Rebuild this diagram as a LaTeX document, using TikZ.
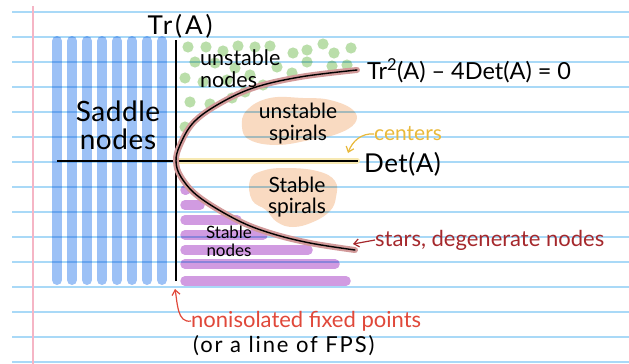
\documentclass[tikz,border=0pt]{standalone}
\usepackage{fontspec}
\setmainfont{Lato}
\usetikzlibrary{arrows.meta}

\definecolor{rulecol}{RGB}{169,217,247}
\definecolor{margincol}{RGB}{245,181,197}
\definecolor{saddlecol}{RGB}{156,193,246}
\definecolor{dotcol}{RGB}{186,222,170}
\definecolor{peachcol}{RGB}{249,218,193}
\definecolor{stablecol}{RGB}{209,155,225}
\definecolor{halocol}{RGB}{210,154,154}
\definecolor{bandcol}{RGB}{247,233,179}
\definecolor{centercol}{RGB}{233,185,58}
\definecolor{starcol}{RGB}{165,40,44}
\definecolor{fpcol}{RGB}{224,72,58}

% size, leading and extra letter spacing of the hand lettering
\newcommand{\handfont}[3]{\fontsize{#1}{#2}\selectfont\addfontfeature{LetterSpace=#3}}

\tikzset{
  ruled/.style={draw=rulecol, line width=1.1},
  saddlebar/.style={draw=saddlecol, line width=10, line cap=round, blend mode=multiply},
  stablebar/.style={draw=stablecol, line width=9.5, line cap=round, blend mode=multiply},
  greendot/.style={fill=dotcol, blend mode=multiply},
  blob/.style={fill=peachcol, blend mode=multiply},
  axis/.style={draw=black, line width=1.3},
  lbl/.style={inner sep=0, text=black},
  handarrow/.style={line width=1.2, -{Straight Barb[length=5pt,width=8pt]}},
}

\begin{document}
\begin{tikzpicture}[x=1pt,y=-1pt]
\useasboundingbox (0,0) rectangle (629,364);
\fill[white] (0,0) rectangle (629,364);

% notebook paper
\foreach \k in {0,...,14}{
  \draw[ruled] (12,12+25*\k) -- (629,12+25*\k);
}
\draw[draw=margincol, line width=1.1] (33,6) -- (33,364);

% saddle region: vertical bars
\foreach \xx in {57,72,87,102,117,132,147,162}{
  \draw[saddlebar] (\xx,41) -- (\xx,280);
}

% unstable nodes: dots
\foreach \p in {(188,47),(206,47),(223,51),(238,46),(255,47),(270,46),(293,53),(307,50),(323,44),(334,53),(351,48),
                (195,62),(215,63),(235,68),(277,67),(307,62),(332,66),(347,65),
                (185,78),(203,82),(227,80),(250,75),(263,85),(292,73),
                (245,92),(232,98),(190,102),(210,104),(185,127)}{
  \fill[greendot] \p circle[radius=5.6];
}

% spiral regions
\fill[blob] plot[smooth cycle, tension=0.7] coordinates {
  (247,110) (270,98) (303,98) (330,100) (353,110) (355,123) (337,134) (310,140) (277,145) (250,140) (242,127)};
\fill[blob] plot[smooth cycle, tension=0.7] coordinates {
  (250,180) (262,171) (285,168) (317,171) (335,181) (336,197) (330,211) (313,222) (293,227) (277,222) (266,210) (252,200)};

% stable nodes: horizontal bars
\draw[stablebar] (185,190) -- (186,190);
\draw[stablebar] (185,205) -- (200,205);
\draw[stablebar] (185,220) -- (237,220);
\draw[stablebar] (185,235) -- (263,235);
\draw[stablebar] (185,250) -- (308,250);
\draw[stablebar] (185,264) -- (335,264);
\draw[stablebar] (185,281) -- (346,281);

% centers: band along the positive Det axis
\draw[draw=bandcol, line width=6, line cap=round] (178,160.5) -- (357,160.5);

% axes
\coordinate (trbot) at (176,281);
\coordinate (trtop) at (176,40);
\coordinate (detl) at (57,161);
\coordinate (detr) at (358,161);
\draw[axis] (trbot) -- (trtop);
\draw[axis] (detl) -- (detr);

% Tr^2 - 4 Det = 0
\draw[draw=halocol, line width=2.3, double=black, double distance=1.4, line cap=round]
  plot[smooth, tension=0.6] coordinates {
  (357,70) (300,77) (253,88) (217,105) (193,123) (180,145) (176,161) (181,177) (199,197) (237,220) (270,233) (310,243) (355,250)};

% labels
\node[lbl, font=\handfont{26}{28}{11}] (tr) at (180,26) {Tr(A)};
\node[lbl, font=\handfont{26}{28}{2}, anchor=west] (det) at (364,164) {Det(A)};
\node[lbl, font=\handfont{28}{28}{2}, align=center] (saddle) at (118,125) {Saddle\\nodes};
\node[lbl, font=\handfont{21.5}{22}{0}, align=left, anchor=west] (unodes) at (200,69) {unstable\\nodes};
\node[lbl, font=\handfont{21}{22}{0}, align=center] (uspir) at (298,124) {unstable\\spirals};
\node[lbl, font=\handfont{21}{21}{0}, align=center] (sspir) at (297,197) {Stable\\spirals};
\node[lbl, font=\handfont{17}{18}{0}, align=center] (snodes) at (229,241) {Stable\\nodes};
\node[lbl, font=\handfont{23.5}{24}{0}, anchor=west] (parab) at (367,71) {Tr\textsuperscript{2}(A) – 4Det(A) = 0};
\node[lbl, font=\handfont{21}{22}{0}, anchor=west, text=centercol] (centers) at (374,134) {centers};
\node[lbl, font=\handfont{22}{22}{0}, anchor=west, text=starcol] (stars) at (375,240) {stars, degenerate nodes};
\node[lbl, font=\handfont{22}{22}{0}, anchor=west, text=fpcol] (fp) at (191,321) {nonisolated fixed points};
\node[lbl, font=\handfont{22}{22}{8.5}, anchor=west] (fpline) at (193,346) {(or a line of FPS)};

% pointers
\coordinate (centerpt) at (348,153);
\coordinate (starpt) at (353,244);
\coordinate (fppt) at (175,289);
\draw[handarrow, draw=centercol] (centers.west) to[out=175,in=70] (centerpt);
\draw[handarrow, draw=starcol] (stars.west) -- (starpt);
\draw[handarrow, draw=fpcol] (fp.west) to[out=190,in=-80] (fppt);
\end{tikzpicture}
\end{document}
